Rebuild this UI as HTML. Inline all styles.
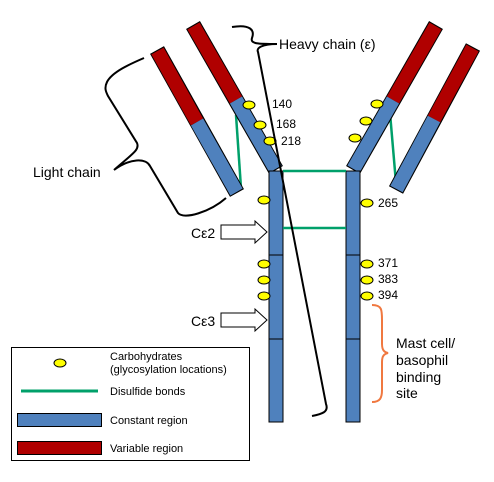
<!DOCTYPE html>
<html><head><meta charset="utf-8"><style>
html,body{margin:0;padding:0;background:#fff;}
svg{display:block;font-family:"Liberation Sans","DejaVu Sans",sans-serif;}
</style></head><body>
<svg width="494" height="482" viewBox="0 0 494 482">
<line x1="236" y1="115" x2="241" y2="188" stroke="#00a06a" stroke-width="2.5"/>
<line x1="390" y1="113" x2="396" y2="183" stroke="#00a06a" stroke-width="2.5"/>
<g>
<line x1="157" y1="50" x2="237" y2="193" stroke="#000" stroke-width="16"/>
<line x1="157.5" y1="51" x2="197" y2="122" stroke="#b00000" stroke-width="14"/>
<line x1="197" y1="122" x2="236.5" y2="192" stroke="#4f81bd" stroke-width="14"/>
</g>
<g>
<line x1="193" y1="25" x2="276" y2="170" stroke="#000" stroke-width="16"/>
<line x1="193.5" y1="26" x2="236" y2="100" stroke="#b00000" stroke-width="14"/>
<line x1="236" y1="100" x2="275.5" y2="169" stroke="#4f81bd" stroke-width="14"/>
</g>
<g>
<line x1="436" y1="25" x2="353" y2="170" stroke="#000" stroke-width="16"/>
<line x1="435.5" y1="26" x2="393" y2="100" stroke="#b00000" stroke-width="14"/>
<line x1="393" y1="100" x2="353.5" y2="169" stroke="#4f81bd" stroke-width="14"/>
</g>
<g>
<line x1="473" y1="47" x2="396" y2="190" stroke="#000" stroke-width="16"/>
<line x1="472.5" y1="48" x2="434" y2="119" stroke="#b00000" stroke-width="14"/>
<line x1="434" y1="119" x2="396.5" y2="189" stroke="#4f81bd" stroke-width="14"/>
</g>
<rect x="269" y="171" width="14" height="251" fill="#4f81bd" stroke="#000" stroke-width="1"/>
<rect x="346" y="171" width="14" height="251" fill="#4f81bd" stroke="#000" stroke-width="1"/>
<line x1="269" y1="255" x2="283" y2="255" stroke="#000"/><line x1="269" y1="339" x2="283" y2="339" stroke="#000"/>
<line x1="346" y1="255" x2="360" y2="255" stroke="#000"/><line x1="346" y1="339" x2="360" y2="339" stroke="#000"/>
<line x1="283" y1="171" x2="346" y2="171" stroke="#00a06a" stroke-width="2.5"/>
<line x1="283" y1="228" x2="346" y2="228" stroke="#00a06a" stroke-width="2.5"/>
<g fill="#ffff00" stroke="#000" stroke-width="1">
<ellipse cx="249" cy="105" rx="6" ry="4"/><ellipse cx="260" cy="125" rx="6" ry="4"/><ellipse cx="270" cy="141" rx="6" ry="4"/>
<ellipse cx="377" cy="104" rx="6" ry="4"/><ellipse cx="366" cy="121" rx="6" ry="4"/><ellipse cx="355" cy="138" rx="6" ry="4"/>
<ellipse cx="264" cy="200" rx="6" ry="4"/><ellipse cx="367" cy="203" rx="6" ry="4"/>
<ellipse cx="264" cy="264" rx="6" ry="4"/><ellipse cx="264" cy="280" rx="6" ry="4"/><ellipse cx="264" cy="296" rx="6" ry="4"/>
<ellipse cx="367" cy="264" rx="6" ry="4"/><ellipse cx="367" cy="280" rx="6" ry="4"/><ellipse cx="367" cy="296" rx="6" ry="4"/>
</g>
<g font-size="12" fill="#000">
<text x="272" y="108">140</text><text x="276" y="128">168</text><text x="281" y="145">218</text>
<text x="378" y="207">265</text>
<text x="378" y="267">371</text><text x="378" y="283">383</text><text x="378" y="299">394</text>
</g>
<path d="M232,27 C250,24 255,30 252,38 C250,44 258,44 277,44 M277,44 C262,44 256,48 258,52 L326,404 C329,412 322,414 312,416" fill="none" stroke="#000" stroke-width="2"/>
<text x="279" y="49" font-size="14">Heavy chain (ε)</text>
<path d="M144,58 C130,64 112,72 107,82 C104,88 106,92 108,96 L137,143 C140,150 132,154 114,170 C130,158 146,158 150,166 L178,213 C184,220 210,212 226,198" fill="none" stroke="#000" stroke-width="2"/>
<text x="33" y="177" font-size="14">Light chain</text>
<path d="M221,225 L255,225 L255,221 L267,232 L255,243 L255,239 L221,239 Z" fill="#fff" stroke="#000"/>
<text x="191" y="238" font-size="14">Cε2</text>
<path d="M221,313 L255,313 L255,309 L267,320 L255,331 L255,327 L221,327 Z" fill="#fff" stroke="#000"/>
<text x="191" y="326" font-size="14">Cε3</text>
<path d="M372,305 C382,305 382,310 382,320 L382,344 C382,350 384,352 388,353 C384,354 382,356 382,362 L382,390 C382,398 380,402 372,402" fill="none" stroke="#f07840" stroke-width="2"/>
<g font-size="14">
<text x="396" y="348">Mast cell/</text><text x="396" y="365">basophil</text><text x="396" y="382">binding</text><text x="396" y="398">site</text>
</g>
<g>
<rect x="11.5" y="347.5" width="238" height="113" fill="#fff" stroke="#000"/>
<ellipse cx="60" cy="363" rx="6" ry="4" fill="#ffff00" stroke="#000"/>
<text x="110" y="360" font-size="11">Carbohydrates</text>
<text x="110" y="373" font-size="11">(glycosylation locations)</text>
<line x1="21" y1="391" x2="98" y2="391" stroke="#00a06a" stroke-width="3"/>
<text x="110" y="395" font-size="11">Disulfide bonds</text>
<rect x="17.5" y="413.5" width="84" height="13" fill="#4f81bd" stroke="#000"/>
<text x="110" y="424" font-size="11">Constant region</text>
<rect x="17.5" y="441.5" width="84" height="13" fill="#b00000" stroke="#000"/>
<text x="110" y="452" font-size="11">Variable region</text>
</g>
</svg>
</body></html>
